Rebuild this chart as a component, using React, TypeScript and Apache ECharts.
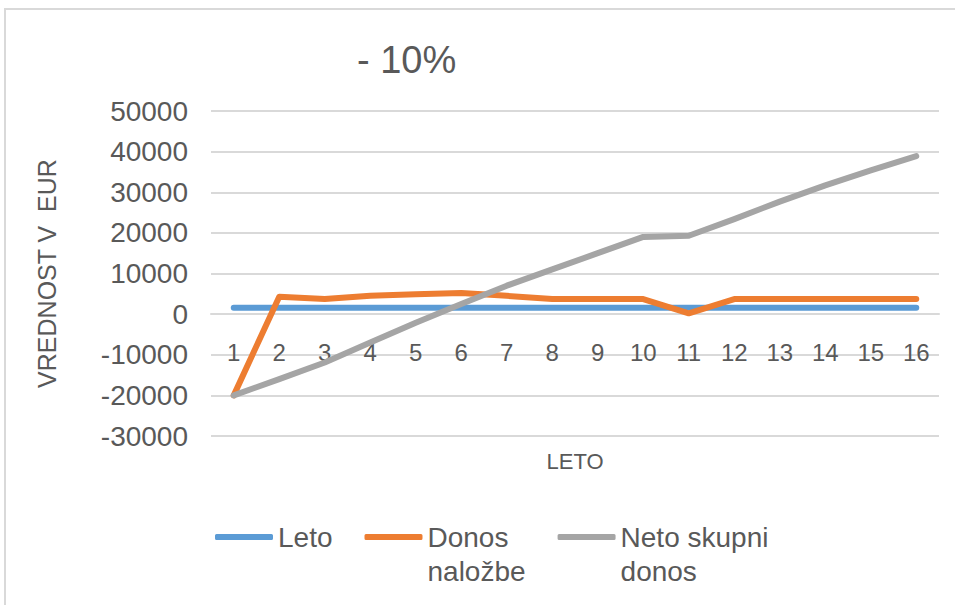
import React, { useEffect, useRef } from "react";
import * as echarts from "echarts";

const categories = ["1", "2", "3", "4", "5", "6", "7", "8", "9", "10", "11", "12", "13", "14", "15", "16"];
const letoValues = [1600, 1600, 1600, 1600, 1600, 1600, 1600, 1600, 1600, 1600, 1600, 1600, 1600, 1600, 1600, 1600];
const donosValues = [-20000, 4300, 3700, 4500, 4900, 5200, 4500, 3700, 3700, 3700, 200, 3700, 3700, 3700, 3700, 3700];
const netoValues = [-20000, -16000, -11900, -7000, -2100, 2500, 7000, 11000, 15000, 19000, 19300, 23400, 27700, 31700, 35400, 38900];
const seriesNames = ["Leto", "Donos naložbe", "Neto skupni donos"];
// leading empty line keeps the first text line level with the legend line
const legendLabels: Record<string, string> = {
  "Leto": "Leto",
  "Donos naložbe": "\nDonos\nnaložbe",
  "Neto skupni donos": "\nNeto skupni\ndonos",
};
const colors = ["#5B9BD5", "#ED7D31", "#A5A5A5"];
const titleText = "- 10%";
const yAxisName = "VREDNOST V  EUR";
const xAxisName = "LETO";
const yMin = -30000;
const yMax = 50000;

const FONT = "'Liberation Sans', Arial, sans-serif";
const TEXT = "#595959";
const GRID = "#D9D9D9";

const GRID_TOP = 111;
const GRID_BOTTOM = 169;
const CHART_H = 605;

export default function App() {
  const ref = useRef<HTMLDivElement>(null);
  useEffect(() => {
    if (!ref.current) return;
    const chart = echarts.init(ref.current, null, { renderer: "svg" });
    const values = [letoValues, donosValues, netoValues];
    const plotH = CHART_H - GRID_TOP - GRID_BOTTOM;
    // move the category axis up to the zero line (Excel style)
    const zeroOffset = -(plotH * (0 - yMin)) / (yMax - yMin);
    chart.setOption({
      animation: false,
      backgroundColor: "#ffffff",
      textStyle: { fontFamily: FONT },
      title: {
        text: titleText,
        left: 357,
        top: 41,
        padding: 0,
        textStyle: { fontFamily: FONT, fontSize: 38, fontWeight: "normal", color: TEXT },
      },
      graphic: [
        {
          type: "rect",
          shape: { x: 5, y: 9, width: 980, height: 640 },
          style: { fill: "none", stroke: GRID, lineWidth: 2 },
          silent: true,
          z: -10,
        },
      ],
      grid: { left: 211, right: 16, top: GRID_TOP, bottom: GRID_BOTTOM },
      legend: {
        left: 215,
        top: 486,
        padding: 0,
        icon: "roundRect",
        itemWidth: 58,
        itemHeight: 6,
        itemGap: 32,
        data: seriesNames,
        formatter: (n: string) => legendLabels[n] ?? n,
        textStyle: { fontFamily: FONT, fontSize: 28, color: TEXT, lineHeight: 34 },
      },
      xAxis: {
        type: "category",
        data: categories,
        boundaryGap: true,
        offset: zeroOffset,
        axisLine: { show: true, onZero: false, lineStyle: { color: GRID, width: 2 } },
        axisTick: { show: false },
        axisLabel: { fontFamily: FONT, fontSize: 24, color: TEXT, margin: 26 },
        splitLine: { show: false },
        name: xAxisName,
        nameLocation: "middle",
        nameGap: 136,
        nameTextStyle: { fontFamily: FONT, fontSize: 22, color: TEXT },
      },
      yAxis: {
        type: "value",
        min: yMin,
        max: yMax,
        interval: 10000,
        axisLine: { show: false },
        axisTick: { show: false },
        axisLabel: {
          fontFamily: FONT,
          fontSize: 28,
          color: TEXT,
          margin: 23,
          formatter: (v: number) => String(v),
        },
        splitLine: { lineStyle: { color: GRID, width: 2 } },
        name: yAxisName,
        nameLocation: "middle",
        nameRotate: 90,
        nameGap: 152,
        nameTextStyle: { fontFamily: FONT, fontSize: 25, color: TEXT },
      },
      series: seriesNames.map((name, i) => ({
        name,
        type: "line",
        data: values[i],
        showSymbol: false,
        symbol: "none",
        color: colors[i],
        lineStyle: { color: colors[i], width: 6, cap: "round", join: "round" },
      })),
    });
    return () => chart.dispose();
  }, []);
  return (
    <div
      ref={ref}
      style={{ position: "fixed", left: 0, top: 0, width: 955, height: 605 }}
    />
  );
}
